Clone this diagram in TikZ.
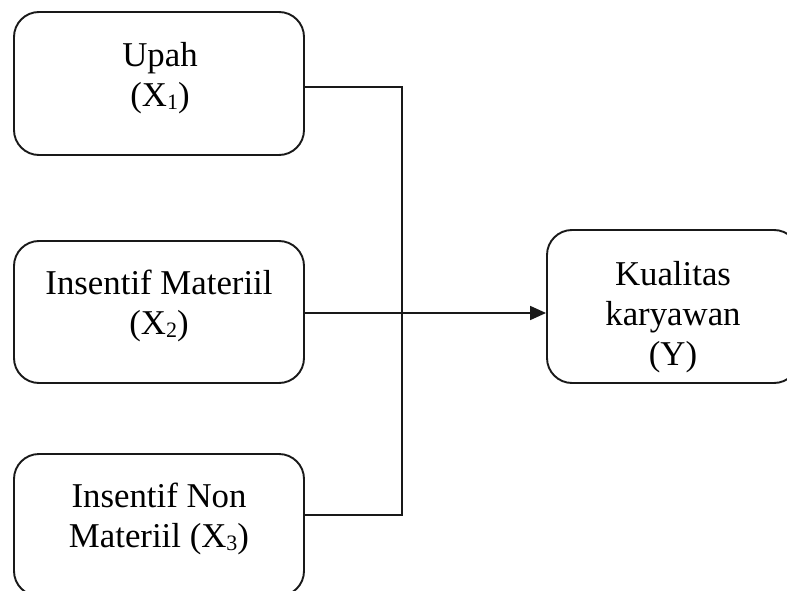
\documentclass[tikz,border=0pt]{standalone}
\usepackage{fontspec}
\setmainfont{Liberation Serif}
\usetikzlibrary{arrows.meta}
\newcommand{\sbs}[1]{\raisebox{-3pt}{\fontsize{22}{22}\selectfont #1}}
\begin{document}
\begin{tikzpicture}[x=1pt,y=-1pt,
  box/.style={draw=black!90, line width=1.9pt, rounded corners=25pt, inner sep=0pt},
  txt/.style={font=\fontsize{34.8}{40}\selectfont, align=center, inner sep=0pt, anchor=base},
  conn/.style={draw=black!90, line width=1.7pt}]
\useasboundingbox (0,0) rectangle (787,591);
\clip (0,0) rectangle (787,591);
\node[box, minimum width=290pt, minimum height=143pt] (x1) at (159,83.5) {};
\node[box, minimum width=290pt, minimum height=142pt] (x2) at (159,312) {};
\node[box, minimum width=290pt, minimum height=142pt] (x3) at (159,525) {};
\node[box, minimum width=252pt, minimum height=153pt] (y) at (673,306.5) {};
\node[txt] (t1) at (160,107) {Upah\\(X\sbs{1})};
\node[txt] (t2) at (159,334) {Insentif Materiil\\(X\sbs{2})};
\node[txt] (t3) at (159,547) {Insentif Non\\Materiil (X\sbs{3})};
\node[txt] (ty) at (673,365) {Kualitas\\karyawan\\(Y)};
\coordinate (top) at (402,87);
\coordinate (bot) at (402,515);
\draw[conn] ([yshift=-3.5pt]x1.east) -- (top) -- (bot) -- ([yshift=10pt]x3.east);
\draw[conn, -{Triangle[length=16pt,width=14pt]}] ([yshift=-1pt]x2.east) -- ([yshift=-1pt]x2.east -| y.west);
\end{tikzpicture}
\end{document}
